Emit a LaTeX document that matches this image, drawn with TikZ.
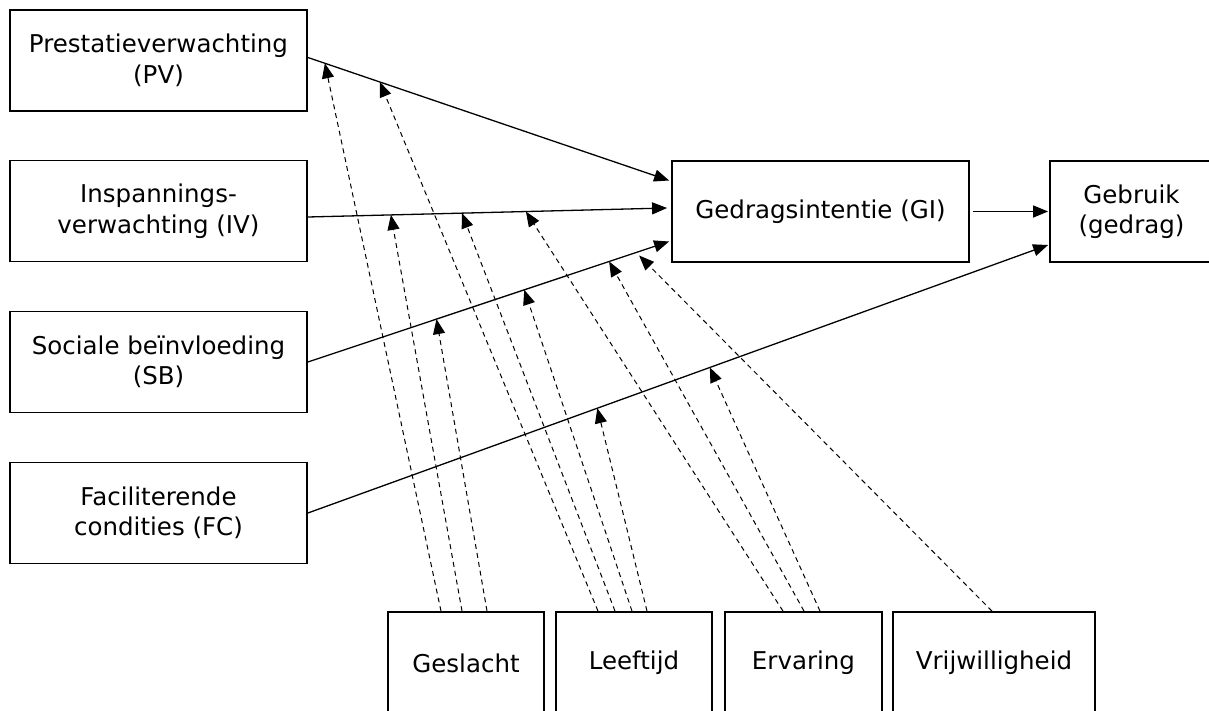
\documentclass[tikz,border=0pt]{standalone}
\usepackage{fontspec}
\setmainfont{DejaVu Sans}
\usetikzlibrary{arrows.meta,calc}

\begin{document}
\begin{tikzpicture}[x=1pt,y=-1pt,
  box/.style={draw,line width=1.8pt,align=center,inner sep=0pt,
    font=\fontsize{24.5}{30.5}\selectfont},
  construct/.style={box,minimum width=297pt,minimum height=101pt},
  moderator/.style={box,minimum height=102pt},
  link/.style={line width=1.3pt,-{Triangle[length=15pt,width=12pt]}},
  modlink/.style={line width=1pt,dash pattern=on 5pt off 4pt,
    -{Triangle[length=15pt,width=12pt]}}]
\useasboundingbox (0,0) rectangle (1209,711);
\clip (0,0) rectangle (1209,711);

% determinants
\node[construct] (pv) at (158.5,60.5) {Prestatieverwachting\\(PV)};
\node[construct] (iv) at (158.5,211) {Inspannings-\\verwachting (IV)};
\node[construct] (sb) at (158.5,362) {Sociale beïnvloeding\\(SB)};
\node[construct] (fc) at (158.5,513) {Faciliterende\\condities (FC)};

% intention and use
\node[construct] (gi) at (820.5,211.5) {Gedragsintentie (GI)};
\node[box,minimum width=163pt,minimum height=101pt] (gb) at (1131.5,211.5) {Gebruik\\(gedrag)};

% moderators
\node[moderator,minimum width=156pt] (ges) at (466,663) {Geslacht};
\node[moderator,minimum width=156pt] (lft) at (634,663) {Leeftijd};
\node[moderator,minimum width=157pt] (erv) at (803.5,663) {Ervaring};
\node[moderator,minimum width=202pt] (vrw) at (994,663) {Vrijwilligheid};

% end points of the main paths
\coordinate (pvS) at ([yshift=3pt]pv.east);
\coordinate (pvE) at ([xshift=-2pt,yshift=31pt]gi.west);
\coordinate (ivS) at ([yshift=-6pt]iv.east);
\coordinate (ivE) at ([xshift=-4pt,yshift=3.5pt]gi.west);
\coordinate (sbS) at (sb.east);
\coordinate (sbE) at ([xshift=-2pt,yshift=-30pt]gi.west);
\coordinate (fcS) at (fc.east);
\coordinate (fcE) at ([xshift=-1pt,yshift=-33.5pt]gb.west);

\draw[link] (pvS) -- (pvE);
\draw[link] (ivS) -- (ivE);
\draw[link] (sbS) -- (sbE);
\draw[link] (fcS) -- (fcE);
\draw[link] ([xshift=3pt]gi.east) -- ([xshift=-1pt]gb.west);

% points where the moderating effects meet the main paths
\coordinate (pv1) at ($(pvS)!0.047!(pvE)$);
\coordinate (pv2) at ($(pvS)!0.199!(pvE)$);
\coordinate (iv1) at ($(ivS)!0.231!(ivE)$);
\coordinate (iv2) at ($(ivS)!0.429!(ivE)$);
\coordinate (iv3) at ($(ivS)!0.607!(ivE)$);
\coordinate (sb1) at ($(sbS)!0.356!(sbE)$);
\coordinate (sb2) at ($(sbS)!0.599!(sbE)$);
\coordinate (sb3) at ($(sbS)!0.834!(sbE)$);
\coordinate (sb4) at ($(sbS)!0.917!(sbE)+(0,4)$);
\coordinate (fc1) at ($(fcS)!0.391!(fcE)$);
\coordinate (fc2) at ($(fcS)!0.543!(fcE)$);

% moderating effects
\draw[modlink] ([xshift=-25pt]ges.north) -- (pv1);
\draw[modlink] ([xshift=-4pt]ges.north) -- (iv1);
\draw[modlink] ([xshift=21pt]ges.north) -- (sb1);
\draw[modlink] ([xshift=-36pt]lft.north) -- (pv2);
\draw[modlink] ([xshift=-19pt]lft.north) -- (iv2);
\draw[modlink] ([xshift=-2pt]lft.north) -- (sb2);
\draw[modlink] ([xshift=13pt]lft.north) -- (fc1);
\draw[modlink] ([xshift=-20.5pt]erv.north) -- (iv3);
\draw[modlink] ([xshift=0.5pt]erv.north) -- (sb3);
\draw[modlink] ([xshift=16.5pt]erv.north) -- (fc2);
\draw[modlink] ([xshift=-2pt]vrw.north) -- (sb4);
\end{tikzpicture}
\end{document}
